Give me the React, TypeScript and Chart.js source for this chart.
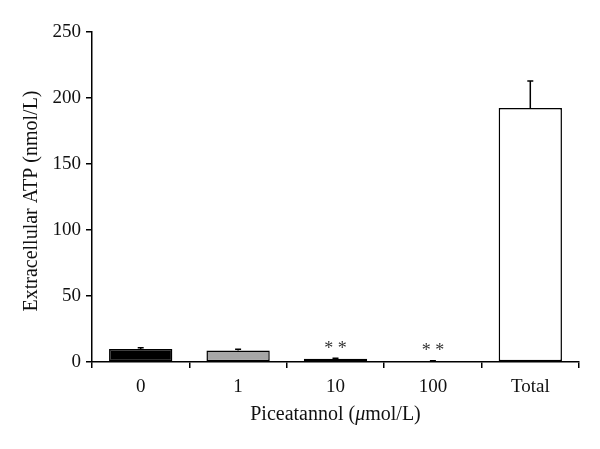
import React, { useEffect, useRef } from "react";
import { Chart, registerables } from "chart.js";

Chart.register(...registerables);

const categories = ["0", "1", "10", "100", "Total"];
const values = [9.8, 8.8, 2.4, 0.7, 192.4];
const errors = [1.0, 0.8, 0.5, 0.3, 20.5];
const significance = ["", "", "* *", "* *", ""];
const fills = ["#000000", "#a6a6a6", "#a6a6a6", "#a6a6a6", "#ffffff"];
const yTicks = [0, 50, 100, 150, 200, 250];
const xTitle = ["Piceatannol (", "μ", "mol/L)"];
const yTitle = "Extracellular ATP (nmol/L)";

const FONT = "'Liberation Serif', 'DejaVu Serif', serif";

const annotate = {
  id: "annotate",
  afterDatasetsDraw(chart: any) {
    const ctx = chart.ctx;
    const x = chart.scales.x;
    const y = chart.scales.y;
    ctx.save();
    ctx.strokeStyle = "#000";
    ctx.lineWidth = 1.5;
    values.forEach((v, i) => {
      const cx = x.getPixelForValue(i);
      const y0 = y.getPixelForValue(v);
      const y1 = y.getPixelForValue(v + errors[i]);
      ctx.beginPath();
      ctx.moveTo(cx, y0);
      ctx.lineTo(cx, y1);
      ctx.moveTo(cx - 3, y1);
      ctx.lineTo(cx + 3, y1);
      ctx.stroke();
      if (significance[i]) {
        ctx.fillStyle = "#333";
        ctx.font = `18px ${FONT}`;
        ctx.textAlign = "center";
        ctx.textBaseline = "middle";
        ctx.fillText(significance[i], cx, y1 - 9);
      }
    });
    // x title with italic mu
    const area = chart.chartArea;
    ctx.fillStyle = "#111";
    ctx.textBaseline = "middle";
    ctx.textAlign = "left";
    const fontN = `20px ${FONT}`;
    const fontI = `italic 20px ${FONT}`;
    ctx.font = fontN;
    const w0 = ctx.measureText(xTitle[0]).width;
    const w2 = ctx.measureText(xTitle[2]).width;
    ctx.font = fontI;
    const w1 = ctx.measureText(xTitle[1]).width;
    let sx = (area.left + area.right) / 2 - (w0 + w1 + w2) / 2;
    const ty = 415;
    ctx.font = fontN;
    ctx.fillText(xTitle[0], sx, ty);
    sx += w0;
    ctx.font = fontI;
    ctx.fillText(xTitle[1], sx, ty);
    sx += w1;
    ctx.font = fontN;
    ctx.fillText(xTitle[2], sx, ty);
    // y title
    ctx.save();
    ctx.translate(32, 201);
    ctx.rotate(-Math.PI / 2);
    ctx.textAlign = "center";
    ctx.font = fontN;
    ctx.fillText(yTitle, 0, 0);
    ctx.restore();
    ctx.restore();
  },
};

export default function App() {
  const ref = useRef<HTMLCanvasElement>(null);
  useEffect(() => {
    if (!ref.current) return;
    const chart = new Chart(ref.current, {
      type: "bar",
      data: {
        labels: categories,
        datasets: [
          {
            data: values,
            backgroundColor: fills,
            borderColor: "#000",
            borderWidth: 1.5,
            borderSkipped: false,
            barPercentage: 0.65,
            categoryPercentage: 1,
          },
        ],
      },
      options: {
        animation: false,
        responsive: false,
        layout: { padding: { top: 32, right: 21, left: 0, bottom: 0 } },
        plugins: { legend: { display: false }, tooltip: { enabled: false } },
        scales: {
          x: {
            afterFit: (s: any) => {
              s.height = 87;
            },
            grid: {
              offset: true,
              drawOnChartArea: false,
              drawTicks: true,
              tickLength: 6,
              color: "#000",
              lineWidth: 1.5,
            },
            border: { display: true, color: "#000", width: 1.5 },
            ticks: { color: "#111", font: { family: FONT, size: 19 }, padding: 8 },
          },
          y: {
            min: 0,
            max: 250,
            afterFit: (s: any) => {
              s.width = 92;
            },
            afterBuildTicks: (s: any) => {
              s.ticks = yTicks.map((v) => ({ value: v }));
            },
            grid: {
              drawOnChartArea: false,
              drawTicks: true,
              tickLength: 6,
              color: "#000",
              lineWidth: 1.5,
            },
            border: { display: true, color: "#000", width: 1.5 },
            ticks: { color: "#111", font: { family: FONT, size: 19 }, padding: 5 },
          },
        },
      },
      plugins: [annotate],
    });
    return () => chart.destroy();
  }, []);
  return (
    <div style={{ position: "fixed", left: 0, top: 0, width: 600, height: 449, background: "#fff" }}>
      <canvas ref={ref} width={600} height={449} style={{ width: 600, height: 449 }} />
    </div>
  );
}
